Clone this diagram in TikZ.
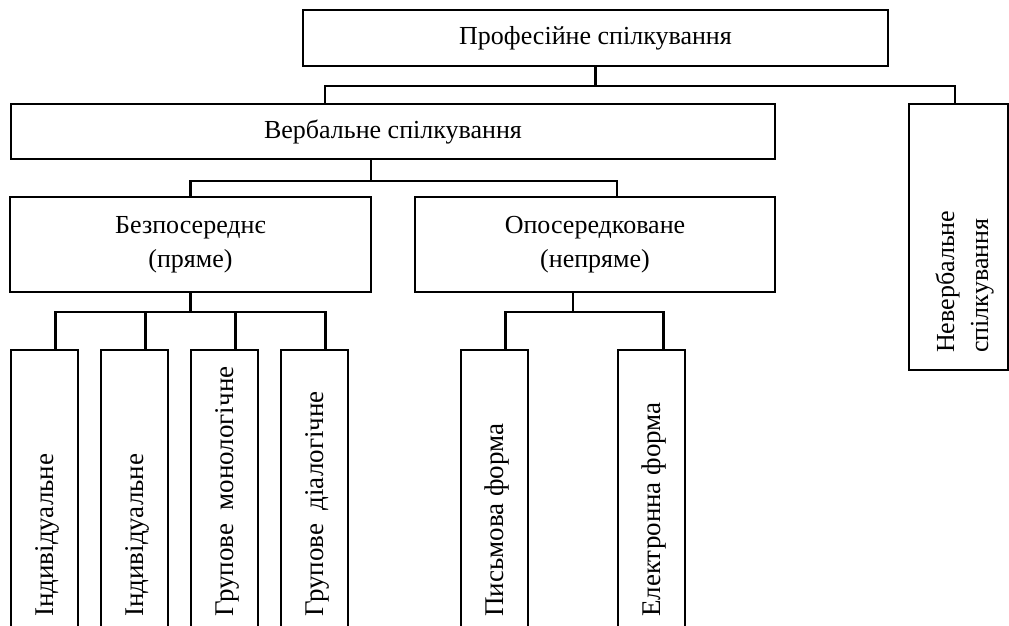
\documentclass[tikz,border=0pt]{standalone}
\usepackage{fontspec}
\setmainfont{Liberation Serif}

\begin{document}
\begin{tikzpicture}[x=1pt,y=-1pt,
	box/.style={draw,line width=2.6pt,outer sep=0pt,inner sep=0pt,anchor=north west},
	link/.style={line width=2.6pt},
	vtext/.style={rotate=90,anchor=base west,inner sep=0pt,font=\fontsize{27}{34}\selectfont},
	font=\fontsize{26}{34}\selectfont]
	
	\clip (0,0) rectangle (1009,626);
	
	% top level
	\node[box,minimum width=585pt,minimum height=56pt] (prof) at (303,10) {Професійне спілкування};
	
	% second level
	\node[box,minimum width=764pt,minimum height=55pt] (verb) at (11,104) {Вербальне спілкування};
	\node[box,minimum width=99pt,minimum height=266pt] (nonv) at (909,104) {};
	\node[rotate=90,anchor=south west,inner sep=0pt,align=left] (nonv-t)
		at ([xshift=-14pt,yshift=17pt]nonv.south east) {Невербальне\\спілкування};
	
	% third level
	\node[box,minimum width=361pt,minimum height=95pt,align=center] (direct) at (10,197) {Безпосереднє\\(пряме)};
	\node[box,minimum width=360pt,minimum height=95pt,align=center] (indirect) at (415,197) {Опосередковане\\(непряме)};
	
	% forms, cut by the page edge
	\foreach \n/\x in {ind1/11,ind2/101,grm/191,grd/281,pis/461,el/618}
		\node[box,minimum width=67pt,minimum height=290pt] (\n) at (\x,350) {};
	\foreach \n/\t in {ind1/Індивідуальне,ind2/Індивідуальне,grm/Групове\ \ монологічне,
		grd/Групове\ \ діалогічне,pis/Письмова форма,el/Електронна форма}
		\node[vtext] (\n-t) at ([xshift=9pt,yshift=23pt]\n.south) {\t};
	
	% connectors
	\draw[link] (prof.south) -- ++(0,20) coordinate (j1);
	\draw[link] ([xshift=314pt]verb.north west) |- (j1) -| ([xshift=46pt]nonv.north west);
	
	\draw[link] ([xshift=360pt]verb.south west) -- ++(0,22) coordinate (j2);
	\draw[link] (direct.north) |- (j2) -| ([xshift=202pt]indirect.north west);
	
	\draw[link] (direct.south) -- ++(0,20) coordinate (j3);
	\draw[link] ([xshift=11pt]ind1.north) |- (j3) -| ([xshift=11pt]grd.north);
	\draw[link] ([xshift=11pt]ind2.north) -- ([xshift=11pt]ind2.north |- j3);
	\draw[link] ([xshift=11pt]grm.north) -- ([xshift=11pt]grm.north |- j3);
	
	\draw[link] ([xshift=-22pt]indirect.south) -- ++(0,20) coordinate (j4);
	\draw[link] ([xshift=11pt]pis.north) |- (j4) -| ([xshift=12pt]el.north);
	
\end{tikzpicture}
\end{document}
